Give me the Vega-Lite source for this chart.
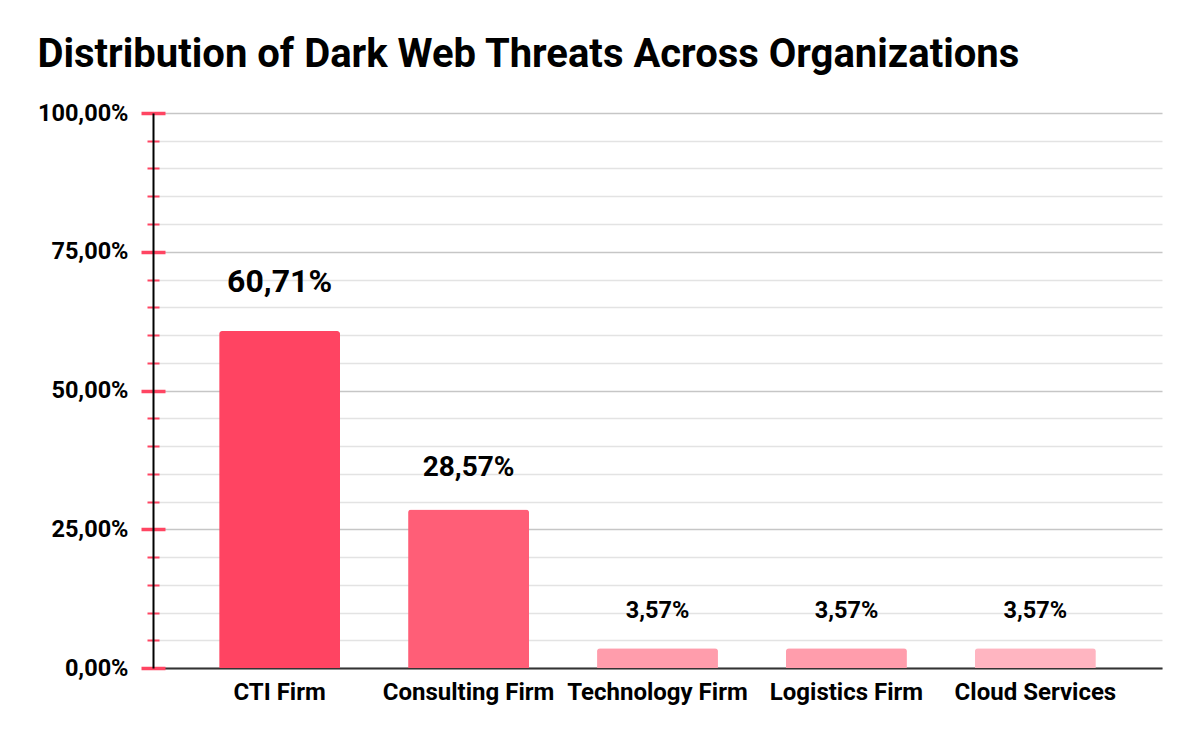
{
  "$schema": "https://vega.github.io/schema/vega-lite/v6.json",
  "autosize": "none",
  "width": 1009,
  "height": 555,
  "padding": {"left": 153, "top": 113, "right": 38, "bottom": 74},
  "background": "white",
  "title": {
    "text": "Distribution of Dark Web Threats Across Organizations",
    "anchor": "start",
    "frame": "bounds",
    "font": "Roboto",
    "fontSize": 40,
    "fontWeight": "bold",
    "color": "#000000",
    "offset": 26
  },
  "data": {
    "values": [
      {"org": "CTI Firm", "share": 0.6071},
      {"org": "Consulting Firm", "share": 0.2857},
      {"org": "Technology Firm", "share": 0.0357},
      {"org": "Logistics Firm", "share": 0.0357},
      {"org": "Cloud Services", "share": 0.0357}
    ]
  },
  "config": {
    "locale": {
      "number": {"decimal": ",", "thousands": ".", "grouping": [3], "currency": ["", " €"]}
    },
    "view": {"stroke": null},
    "axis": {"labelFont": "Roboto", "labelFontWeight": "bold", "labelColor": "#000000", "titleFont": "Roboto"}
  },
  "encoding": {
    "x": {
      "field": "org",
      "type": "nominal",
      "sort": null,
      "title": null,
      "scale": {"paddingInner": 0.36, "paddingOuter": 0.35},
      "axis": {
        "labelAngle": 0,
        "labelFontSize": 24,
        "labelPadding": 12,
        "labelLimit": 400,
        "labelOverlap": false,
        "ticks": false,
        "domainColor": "#333333",
        "domainWidth": 2,
        "grid": false
      }
    },
    "y": {
      "field": "share",
      "type": "quantitative",
      "title": null,
      "scale": {"domain": [0, 1], "nice": false},
      "axis": {
        "values": [0, 0.05, 0.1, 0.15, 0.2, 0.25, 0.3, 0.35, 0.4, 0.45, 0.5, 0.55, 0.6, 0.65, 0.7, 0.75, 0.8, 0.85, 0.9, 0.95, 1],
        "format": ".2%",
        "labelExpr": "abs(datum.value * 4 - round(datum.value * 4)) < 0.001 ? datum.label : ''",
        "labelFontSize": 23.5,
        "labelPadding": 13,
        "tickSize": 12,
        "tickColor": "#ff4562",
        "tickWidth": {
          "condition": {"test": "abs(datum.value * 4 - round(datum.value * 4)) < 0.001", "value": 3.5},
          "value": 2
        },
        "domainColor": "#000000",
        "domainWidth": 2,
        "grid": true,
        "gridColor": {
          "condition": {"test": "abs(datum.value * 4 - round(datum.value * 4)) < 0.001", "value": "#c6c6c6"},
          "value": "#e3e3e3"
        },
        "gridWidth": 1.5,
        "encoding": {
          "ticks": {
            "x": {
              "condition": {"test": "abs(datum.value * 4 - round(datum.value * 4)) < 0.001", "value": 12},
              "value": 6
            },
            "x2": {
              "condition": {"test": "abs(datum.value * 4 - round(datum.value * 4)) < 0.001", "value": -12},
              "value": -6
            }
          }
        }
      }
    }
  },
  "layer": [
    {
      "mark": {"type": "bar", "cornerRadiusTopLeft": 3, "cornerRadiusTopRight": 3},
      "encoding": {
        "color": {
          "field": "org",
          "type": "nominal",
          "scale": {
            "domain": ["CTI Firm", "Consulting Firm", "Technology Firm", "Logistics Firm", "Cloud Services"],
            "range": ["#ff4462", "#ff5e77", "#ff9dac", "#ff9dac", "#ffb5c1"]
          },
          "legend": null
        }
      }
    },
    {
      "mark": {
        "type": "text",
        "font": "Roboto",
        "fontWeight": "bold",
        "color": "#000000",
        "baseline": "alphabetic",
        "align": "center",
        "dy": {"expr": "datum.share > 0.5 ? -39 : datum.share > 0.1 ? -33 : -30"}
      },
      "encoding": {
        "text": {"field": "share", "type": "quantitative", "format": ".2%"},
        "size": {
          "field": "share",
          "type": "quantitative",
          "scale": {"domain": [0.0357, 0.2857, 0.6071], "range": [23.5, 28, 32]},
          "legend": null
        }
      }
    }
  ]
}
